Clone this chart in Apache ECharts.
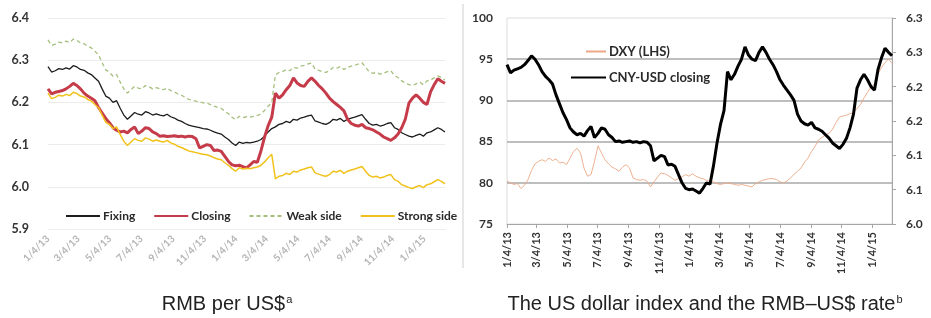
<!DOCTYPE html>
<html>
<head>
<meta charset="utf-8">
<script src="https://cdn.jsdelivr.net/npm/echarts@6.0.0/dist/echarts.min.js"></script>
<style>
  html, body { margin: 0; padding: 0; background: #fff; }
  #chart { width: 931px; height: 318px; }
</style>
</head>
<body>
<div id="chart"></div>
<script>
// x axis labels (both panels)
const tickLabels = ['1/4/13', '3/4/13', '5/4/13', '7/4/13', '9/4/13', '11/4/13', '1/4/14',
  '3/4/14', '5/4/14', '7/4/14', '9/4/14', '11/4/14', '1/4/15']
const rightTickLabels = ['6.0', '6.1', '6.1', '6.2', '6.2', '6.3', '6.3']

// weekly readings, 4 Jan 2013 .. 13 Feb 2015
const fixing = [
  6.285, 6.272, 6.275, 6.280, 6.278, 6.282, 6.279, 6.287, 6.284, 6.278,
  6.276, 6.270, 6.266, 6.258, 6.250, 6.232, 6.215, 6.210, 6.200, 6.204,
  6.186, 6.170, 6.160, 6.168, 6.176, 6.172, 6.170, 6.178, 6.175, 6.170,
  6.173, 6.170, 6.168, 6.172, 6.166, 6.163, 6.158, 6.155, 6.150, 6.146,
  6.144, 6.142, 6.140, 6.138, 6.137, 6.134, 6.130, 6.127, 6.125, 6.118,
  6.112, 6.104, 6.098, 6.106, 6.103, 6.105, 6.104, 6.106, 6.108, 6.112,
  6.120, 6.130, 6.138, 6.142, 6.148, 6.150, 6.155, 6.152, 6.160, 6.158,
  6.163, 6.165, 6.168, 6.170, 6.156, 6.153, 6.150, 6.148, 6.152, 6.160,
  6.158, 6.162, 6.155, 6.160, 6.163, 6.165, 6.168, 6.171, 6.160, 6.150,
  6.146, 6.148, 6.144, 6.146, 6.150, 6.152, 6.140, 6.136, 6.128, 6.124,
  6.120, 6.118, 6.122, 6.125, 6.120, 6.128, 6.130, 6.135, 6.140, 6.136,
  6.130
]
const closing = [
  6.232, 6.220, 6.224, 6.226, 6.228, 6.232, 6.238, 6.245, 6.240, 6.232,
  6.222, 6.215, 6.210, 6.204, 6.188, 6.175, 6.162, 6.152, 6.140, 6.134,
  6.130, 6.132, 6.128, 6.136, 6.142, 6.126, 6.132, 6.140, 6.138, 6.130,
  6.126, 6.120, 6.121, 6.119, 6.120, 6.121, 6.119, 6.120, 6.118, 6.120,
  6.119, 6.114, 6.092, 6.096, 6.100, 6.098, 6.086, 6.087, 6.084, 6.072,
  6.060, 6.052, 6.050, 6.051, 6.048, 6.045, 6.052, 6.060, 6.058, 6.085,
  6.118, 6.145, 6.165, 6.222, 6.210, 6.218, 6.230, 6.240, 6.258, 6.246,
  6.240, 6.238, 6.250, 6.258, 6.250, 6.240, 6.232, 6.222, 6.210, 6.202,
  6.195, 6.188, 6.180, 6.160, 6.150, 6.146, 6.144, 6.148, 6.140, 6.138,
  6.135, 6.130, 6.125, 6.118, 6.114, 6.110, 6.116, 6.125, 6.140, 6.160,
  6.198, 6.210, 6.218, 6.210, 6.200, 6.195, 6.225, 6.242, 6.256, 6.250,
  6.245
]
const weakSide = [
  6.348, 6.335, 6.338, 6.343, 6.341, 6.345, 6.342, 6.350, 6.347, 6.341,
  6.339, 6.333, 6.329, 6.321, 6.313, 6.294, 6.277, 6.272, 6.262, 6.266,
  6.248, 6.232, 6.222, 6.230, 6.238, 6.234, 6.232, 6.240, 6.237, 6.232,
  6.235, 6.232, 6.230, 6.234, 6.228, 6.225, 6.220, 6.217, 6.212, 6.207,
  6.205, 6.203, 6.201, 6.199, 6.198, 6.195, 6.191, 6.188, 6.186, 6.179,
  6.173, 6.165, 6.159, 6.167, 6.164, 6.166, 6.165, 6.167, 6.169, 6.173,
  6.181, 6.191, 6.199, 6.265, 6.271, 6.273, 6.278, 6.275, 6.283, 6.281,
  6.286, 6.288, 6.291, 6.293, 6.279, 6.276, 6.273, 6.271, 6.275, 6.283,
  6.281, 6.285, 6.278, 6.283, 6.286, 6.288, 6.291, 6.294, 6.283, 6.273,
  6.269, 6.271, 6.267, 6.269, 6.273, 6.275, 6.263, 6.259, 6.251, 6.246,
  6.242, 6.240, 6.244, 6.248, 6.242, 6.251, 6.253, 6.258, 6.263, 6.259,
  6.253
]
const strongSide = [
  6.222, 6.209, 6.212, 6.217, 6.215, 6.219, 6.216, 6.224, 6.221, 6.215,
  6.213, 6.207, 6.203, 6.195, 6.188, 6.170, 6.153, 6.148, 6.138, 6.142,
  6.124, 6.108, 6.098, 6.106, 6.114, 6.110, 6.108, 6.116, 6.113, 6.108,
  6.111, 6.108, 6.106, 6.110, 6.104, 6.101, 6.096, 6.093, 6.089, 6.085,
  6.083, 6.081, 6.079, 6.077, 6.076, 6.073, 6.069, 6.066, 6.064, 6.057,
  6.051, 6.043, 6.037, 6.045, 6.042, 6.044, 6.043, 6.045, 6.047, 6.051,
  6.059, 6.069, 6.077, 6.019, 6.025, 6.027, 6.032, 6.029, 6.037, 6.035,
  6.040, 6.042, 6.045, 6.047, 6.033, 6.030, 6.027, 6.025, 6.029, 6.037,
  6.035, 6.039, 6.032, 6.037, 6.040, 6.042, 6.045, 6.048, 6.037, 6.027,
  6.023, 6.025, 6.021, 6.023, 6.027, 6.029, 6.017, 6.013, 6.005, 6.002,
  5.998, 5.996, 6.000, 6.003, 5.998, 6.005, 6.007, 6.012, 6.017, 6.013,
  6.007
]
const dxy = [
  80.2, 80.0, 79.8, 79.9, 79.3, 79.7, 80.4, 81.5, 82.3, 82.6,
  82.8, 82.6, 83.0, 82.7, 82.9, 82.4, 82.5, 82.2, 83.0, 83.8,
  84.2, 83.6, 81.8, 80.8, 81.0, 82.6, 84.5, 83.6, 82.8, 82.3,
  81.9, 81.7, 81.4, 81.9, 82.2, 81.8, 80.6, 80.4, 80.3, 80.4,
  80.2, 79.5, 80.1, 80.7, 81.2, 81.1, 80.9, 80.6, 80.3, 80.5,
  80.7, 81.0, 80.8, 81.1, 80.8, 80.6, 80.5, 80.3, 80.2, 80.1,
  79.9, 79.8, 79.9, 80.0, 79.9, 79.8, 79.7, 79.8, 79.7, 79.6,
  79.5, 79.9, 80.1, 80.3, 80.4, 80.5, 80.5, 80.4, 80.1, 80.0,
  80.2, 80.6, 81.0, 81.4, 81.8, 82.5, 83.0, 83.8, 84.4, 85.2,
  85.5, 85.8, 86.0, 86.5, 87.3, 88.0, 88.1, 88.2, 88.4, 88.5,
  89.0, 89.5, 90.3, 91.0, 91.6, 92.0, 93.2, 94.0, 94.6, 95.0,
  94.5
]

const dates = closing.map((_, i) => new Date(2013, 0, 4 + 7 * i).getTime())
const tickDates = tickLabels.map(s => {
  const [m, d, y] = s.split('/').map(Number)
  return new Date(2000 + y, m - 1, d).getTime()
})
const pair = arr => arr.map((v, i) => [dates[i], v])
const fmtDate = v => {
  const d = new Date(v)
  return (d.getMonth() + 1) + '/' + d.getDate() + '/' + (d.getFullYear() % 100)
}

const font = 'Lato, "Open Sans", sans-serif'
const titleFont = '"Liberation Sans", Arial, sans-serif'
const titleRich = {
  m: {fontFamily: titleFont, fontWeight: 'normal', fontSize: 20, color: '#222'},
  s: {fontFamily: titleFont, fontWeight: 'normal', fontSize: 11, color: '#222', padding: [0, 0, 10, 1]}
}
const legendText = size => ({fontFamily: font, fontWeight: 'bold', fontSize: size, color: '#2a2a2a', padding: [0, 0, 0, -2]})

const chart = echarts.init(document.getElementById('chart'))

chart.setOption({
  animation: false,
  textStyle: {fontFamily: font},
  title: [
    {
      text: '{m|RMB per US$}{s|a}',
      left: 222, top: 289, textAlign: 'center',
      textStyle: {fontWeight: 'normal', rich: titleRich}
    },
    {
      text: '{m|The US dollar index and the RMB\u2013US$ rate}{s|b}',
      left: 700, top: 289, textAlign: 'center',
      textStyle: {fontWeight: 'normal', rich: titleRich}
    }
  ],
  legend: [
    {
      data: ['Fixing', 'Closing', 'Weak side', 'Strong side'],
      left: 60, top: 205,
      itemWidth: 34, itemHeight: 10, itemGap: 18,
      itemStyle: {opacity: 0},
      textStyle: legendText(12)
    },
    {
      data: ['DXY (LHS)'],
      left: 580, top: 40,
      itemWidth: 20, itemHeight: 10,
      itemStyle: {opacity: 0},
      textStyle: legendText(13)
    },
    {
      data: ['CNY-USD closing'],
      left: 565, top: 66,
      itemWidth: 35, itemHeight: 10,
      itemStyle: {opacity: 0},
      textStyle: legendText(13)
    }
  ],
  graphic: [
    {type: 'line', shape: {x1: 463, y1: 4, x2: 463, y2: 268}, style: {stroke: '#cfcfcf', lineWidth: 1}}
  ],
  grid: [
    {left: 48, top: 18, width: 397, height: 211},
    {left: 507, top: 18, width: 385, height: 206, show: true, borderColor: '#dcdcdc', borderWidth: 1}
  ],
  xAxis: [
    {
      type: 'value', gridIndex: 0,
      min: dates[0], max: dates[dates.length - 1],
      axisLine: {show: true, lineStyle: {color: '#eeeeee'}},
      axisTick: {show: false},
      splitLine: {show: false},
      axisLabel: {
        customValues: tickDates, rotate: 45, margin: 8,
        color: '#b5b5b5', fontSize: 10, fontFamily: font, fontWeight: 'bold',
        formatter: fmtDate
      }
    },
    {
      type: 'value', gridIndex: 1,
      min: dates[0], max: dates[dates.length - 1],
      axisLine: {show: true, lineStyle: {color: '#a6a6a6', width: 1}},
      axisTick: {show: true, customValues: tickDates, length: 4, lineStyle: {color: '#a6a6a6'}},
      splitLine: {show: false},
      axisLabel: {
        customValues: tickDates, rotate: 90, margin: 8,
        color: '#333', fontSize: 11, fontFamily: font, fontWeight: 'bold',
        formatter: fmtDate
      }
    }
  ],
  yAxis: [
    {
      type: 'value', gridIndex: 0, min: 5.9, max: 6.4, interval: 0.1,
      axisLine: {show: false}, axisTick: {show: false},
      splitLine: {lineStyle: {color: '#ececec', width: 1}},
      axisLabel: {
        margin: 19, color: '#333', fontSize: 12.5, fontWeight: 'bold', fontFamily: font,
        formatter: v => v.toFixed(1)
      }
    },
    {
      type: 'value', gridIndex: 1, min: 75, max: 100, interval: 5,
      axisLine: {show: false}, axisTick: {show: false},
      splitLine: {showMaxLine: false, showMinLine: false, lineStyle: {color: '#a9a9a9', width: 1.5}},
      axisLabel: {margin: 14, color: '#333', fontSize: 12, fontWeight: 'bold', fontFamily: font}
    },
    {
      type: 'value', gridIndex: 1, position: 'right', min: 6.0, max: 6.3, interval: 0.05,
      axisLine: {show: true, lineStyle: {color: '#a6a6a6', width: 1}},
      axisTick: {show: true, length: 4, lineStyle: {color: '#a6a6a6'}},
      splitLine: {show: false},
      axisLabel: {
        margin: 14, color: '#333', fontSize: 12, fontWeight: 'bold', fontFamily: font,
        formatter: v => rightTickLabels[Math.round((v - 6.0) / 0.05)]
      }
    }
  ],
  series: [
    {
      name: 'Fixing', type: 'line', xAxisIndex: 0, yAxisIndex: 0, data: pair(fixing),
      symbol: 'none', lineStyle: {color: '#1c1c1c', width: 1.3}, itemStyle: {color: '#1c1c1c'}
    },
    {
      name: 'Closing', type: 'line', xAxisIndex: 0, yAxisIndex: 0, data: pair(closing),
      symbol: 'none', lineStyle: {color: '#c63b4a', width: 3}, itemStyle: {color: '#c63b4a'}
    },
    {
      name: 'Weak side', type: 'line', xAxisIndex: 0, yAxisIndex: 0, data: pair(weakSide),
      symbol: 'none', lineStyle: {color: '#a5bf7c', width: 1.3, type: [4, 3]}, itemStyle: {color: '#a5bf7c'}
    },
    {
      name: 'Strong side', type: 'line', xAxisIndex: 0, yAxisIndex: 0, data: pair(strongSide),
      symbol: 'none', lineStyle: {color: '#f1c21b', width: 1.5}, itemStyle: {color: '#f1c21b'}
    },
    {
      name: 'DXY (LHS)', type: 'line', xAxisIndex: 1, yAxisIndex: 1, data: pair(dxy),
      symbol: 'none', lineStyle: {color: '#eba886', width: 0.9}, itemStyle: {color: '#eba886'}
    },
    {
      name: 'CNY-USD closing', type: 'line', xAxisIndex: 1, yAxisIndex: 2, data: pair(closing),
      symbol: 'none', lineStyle: {color: '#000', width: 3}, itemStyle: {color: '#000'}
    }
  ]
})
</script>
</body>
</html>
